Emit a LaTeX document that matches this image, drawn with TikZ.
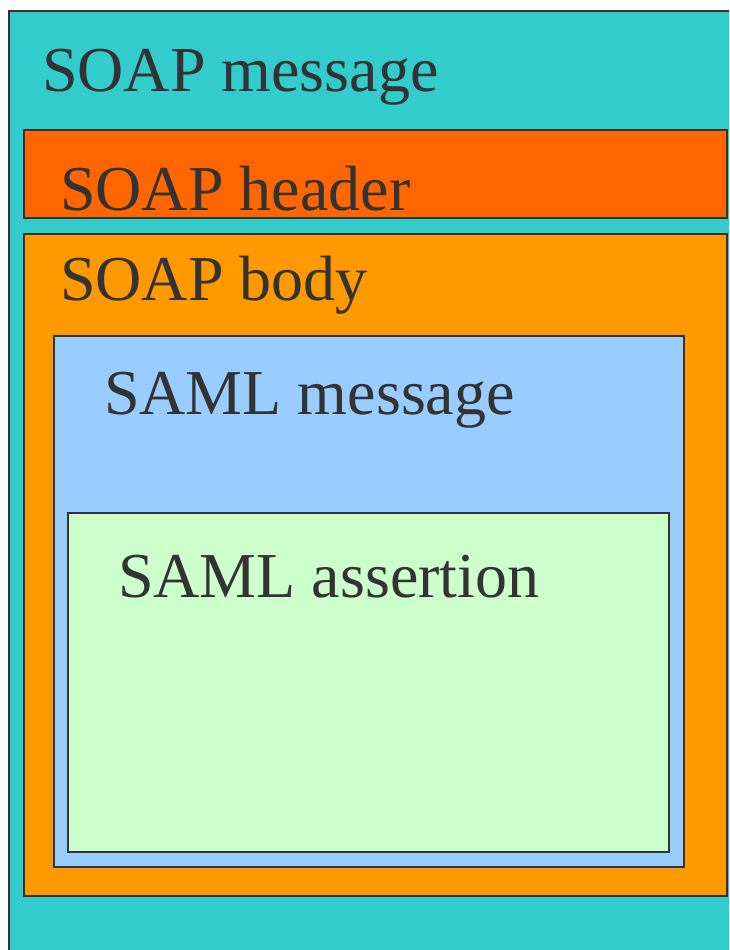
\documentclass[tikz,border=0pt]{standalone}
\usepackage{fontspec}
\setmainfont{Liberation Serif}
\definecolor{teal1}{HTML}{33CCCC}
\definecolor{hdr}{HTML}{FF6600}
\definecolor{bdy}{HTML}{FF9900}
\definecolor{samlmsg}{HTML}{99CCFF}
\definecolor{samlass}{HTML}{CCFFCC}
\definecolor{ink}{HTML}{333333}
\tikzset{
  layer/.style={draw=ink, line width=1.6pt},
  lbl/.style={anchor=base west, inner sep=0pt, text=ink, font=\fontsize{64}{70}\selectfont}
}
\begin{document}
\begin{tikzpicture}[x=1pt,y=-1pt]
\useasboundingbox (0,0) rectangle (729,950);
\clip (0,0) rectangle (729,950);
% nested containers
\path[layer, fill=teal1] (9,11) rectangle (745,965);
\path[layer, fill=hdr] (24,130) rectangle (727,218);
\path[layer, fill=bdy] (24,234) rectangle (727,896);
\path[layer, fill=samlmsg] (54,336) rectangle (684,867);
\path[layer, fill=samlass] (68,513) rectangle (669,852);
% labels
\node[lbl] (soapmsg) at (42,92) {SOAP message};
\node[lbl] (soaphdr) at (60,210) {SOAP header};
\node[lbl] (soapbody) at (60,300) {SOAP body};
\node[lbl] (samlmsgt) at (104,414) {SAML message};
\node[lbl] (samlasst) at (118,597) {SAML assertion};
\end{tikzpicture}
\end{document}
